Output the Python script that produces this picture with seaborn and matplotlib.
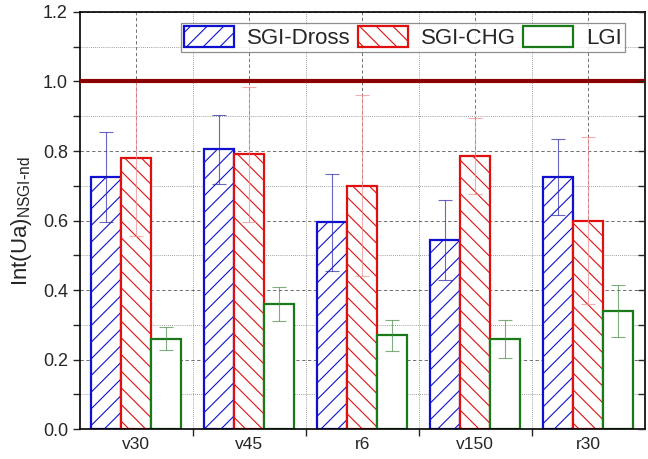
import matplotlib
matplotlib.use("Agg")
import matplotlib.pyplot as plt
from matplotlib.ticker import MultipleLocator, FixedLocator
import seaborn as sns
import pandas as pd

sns.set_theme(style="white")
plt.rcParams['font.family'] = ['Liberation Sans', 'DejaVu Sans']
plt.rcParams['mathtext.default'] = 'regular'
plt.rcParams['hatch.linewidth'] = 0.8

samples = ["v30", "v45", "r6", "v150", "r30"]
series = ["SGI-Dross", "SGI-CHG", "LGI"]
dross = [0.725, 0.805, 0.595, 0.545, 0.725]
dross_err = [0.13, 0.10, 0.14, 0.115, 0.11]
chg = [0.78, 0.79, 0.70, 0.785, 0.60]
chg_err = [0.225, 0.195, 0.26, 0.11, 0.24]
lgi = [0.26, 0.36, 0.27, 0.26, 0.34]
lgi_err = [0.033, 0.05, 0.045, 0.055, 0.075]

edge_colors = ["#1010d0", "#e01010", "#1a7a1a"]
err_colors = ["#2828a8", "#f08a8a", "#4a8a4a"]
hatches = ["//", "\\\\", ""]

df = pd.DataFrame({
    "sample": samples * 3,
    "value": dross + chg + lgi,
    "series": [series[0]] * 5 + [series[1]] * 5 + [series[2]] * 5,
})
errs = [dross_err, chg_err, lgi_err]

fig = plt.figure(figsize=(6.48, 4.59), dpi=100)
ax = fig.add_axes([0.123, 0.065, 0.872, 0.909])

sns.barplot(data=df, x="sample", y="value", hue="series", order=samples,
            hue_order=series, errorbar=None, width=0.8, legend=False, ax=ax)

bar_groups = list(ax.containers)
for i, cont in enumerate(bar_groups):
    for j, bar in enumerate(cont.patches):
        bar.set_facecolor("white")
        bar.set_edgecolor(edge_colors[i])
        bar.set_hatch(hatches[i])
        bar.set_linewidth(1.6)
        xc = bar.get_x() + bar.get_width() / 2
        ax.errorbar(xc, bar.get_height(), yerr=errs[i][j], fmt="none",
                    ecolor=err_colors[i], elinewidth=0.8, capsize=5,
                    capthick=0.8, alpha=0.7, zorder=3)

ax.axhline(1.0, color="#8b0000", lw=3, zorder=4)

ax.set_xlim(-0.5, 4.5)
ax.set_ylim(0, 1.2)
ax.yaxis.set_major_locator(MultipleLocator(0.2))
ax.yaxis.set_minor_locator(MultipleLocator(0.1))
ax.yaxis.set_major_formatter(matplotlib.ticker.FormatStrFormatter("%.1f"))
ax.xaxis.set_minor_locator(FixedLocator([0.5, 1.5, 2.5, 3.5]))
ax.set_axisbelow(True)
ax.grid(which="major", color="0.35", ls=(0, (4, 3)), lw=0.6)
ax.grid(which="minor", color="0.5", ls=(0, (1, 1.5)), lw=0.6)

ax.tick_params(axis="y", which="both", direction="out", length=5, width=1,
               left=True, right=False, labelsize=13)
ax.tick_params(axis="x", which="major", length=0, labelsize=12.5, pad=6)
ax.tick_params(axis="x", which="minor", direction="out", length=5, width=1,
               bottom=True)
for s in ax.spines.values():
    s.set_color("black")
    s.set_linewidth(1.2)

# right side ticks point inward
ax_r = ax.twinx()
ax_r.set_ylim(0, 1.2)
ax_r.yaxis.set_major_locator(MultipleLocator(0.1))
ax_r.tick_params(axis="y", direction="in", length=5, width=1, right=True,
                 labelright=False)
ax_r.grid(False)
for s in ax_r.spines.values():
    s.set_visible(False)

ax.set_xlabel("")
ax.set_ylabel(r"Int(Ua)$_{NSGI\text{-}nd}$", fontsize=16, labelpad=6)

leg = ax.legend(handles=bar_groups, labels=series, ncol=3,
                loc="upper right", bbox_to_anchor=(0.965, 0.974),
                fontsize=16, frameon=True, fancybox=False, edgecolor="0.45",
                handlelength=2.25, handleheight=1.05, columnspacing=0.3,
                handletextpad=0.6, borderpad=0.15, borderaxespad=0)
leg.get_frame().set_linewidth(0.9)
leg.set_zorder(5)

fig.savefig("out.png", dpi=100)
